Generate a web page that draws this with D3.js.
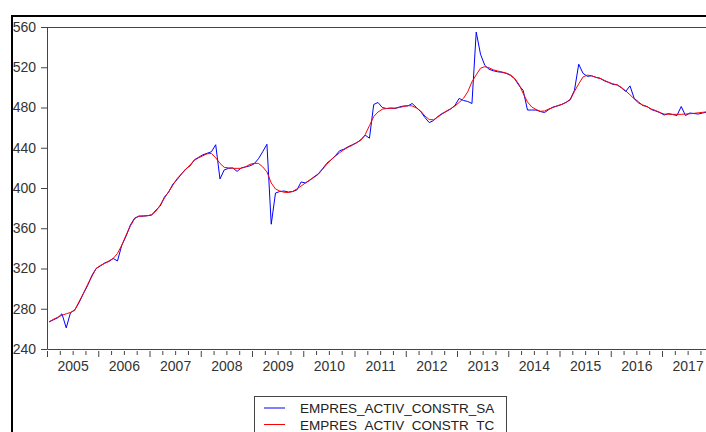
<!DOCTYPE html>
<html>
<head>
<meta charset="utf-8">
<script src="https://cdn.jsdelivr.net/npm/d3@7"></script>
<style>
  body { margin: 0; background: #fff; }
  svg { display: block; font-family: Arial, "Liberation Sans", sans-serif; }
</style>
</head>
<body>
<script>
const WIDTH = 706
const HEIGHT = 432

// Données mensuelles 2005M01 - 2017M12
const startYear = 2005
const yearLabels = ["2005", "2006", "2007", "2008", "2009", "2010", "2011", "2012", "2013", "2014", "2015", "2016", "2017"]
const yTicks = [240, 280, 320, 360, 400, 440, 480, 520, 560]
const seriesNames = ["EMPRES_ACTIV_CONSTR_SA", "EMPRES_ACTIV_CONSTR_TC"]

const sa = [
  267, 269, 271, 275, 261, 276, 279, 286, 295, 303, 313, 320,
  322.5, 325.5, 327, 330, 327.5, 343, 352, 363, 370, 372, 372, 372.5,
  373, 378, 382, 391, 396, 404, 408.5, 414, 419, 422, 428, 430.5,
  433, 434.5, 436, 443, 409, 418, 419.5, 420, 416.5, 420, 421, 422,
  424, 429, 436, 443.5, 364, 395, 396.5, 397, 396, 396.5, 398, 406,
  405, 407.5, 411, 414, 419, 424.5, 428, 432, 437, 438.5, 441, 443,
  445, 448, 452.5, 449.5, 483, 485, 480, 479, 479.5, 479, 480.5, 481.5,
  481.5, 484, 480, 476, 470, 465, 467, 471, 474, 476, 478.5, 482,
  489, 487, 486, 484, 555, 533, 522, 518, 516.5, 515.5, 515, 514,
  512, 508.5, 502, 497, 477.5, 477.5, 477.5, 476, 475, 478, 480.5, 481.5,
  483, 485, 488, 497, 523, 514, 511, 511.5, 510, 509, 506.5, 505,
  503, 502.5, 499.5, 496, 501.5, 489, 485.5, 482, 481, 478, 476.5, 475,
  472.5, 474, 473, 472, 481, 472, 474.5, 474, 473.5, 474.5, 475.5, 476
]

const tc = [
  267, 269.5, 271.5, 273.5, 275, 276.3, 278.5, 287, 295, 304, 312, 320,
  323, 325, 327.5, 330, 335, 343, 353, 362, 369.5, 372, 372.3, 372.4,
  373.5, 377, 383, 390, 396.5, 403, 409.5, 414, 418.5, 423, 427.5, 430,
  432, 434, 434.3, 430, 424.5, 420.5, 420, 419.6, 419.5, 419.6, 421, 423.5,
  424.5, 424.5, 421, 416, 405, 399, 397, 395.8, 395.5, 396.5, 399, 402,
  405, 408, 410.5, 413.5, 418.5, 423.5, 428, 431.5, 435, 438, 440.5, 442.5,
  445, 447.5, 453, 462, 471, 475.5, 478.3, 479, 479.2, 479.4, 480, 481,
  482, 481.5, 479.5, 476.5, 471.5, 468, 467.8, 470.5, 473.5, 476.5, 478.7, 481.5,
  485, 489, 495.5, 505.5, 512.5, 519, 520.6, 519.5, 517.5, 516.3, 515.3, 514.2,
  512.5, 509, 503, 494, 485.5, 480.5, 478, 476.3, 476.5, 478.5, 480, 481.8,
  483, 485, 487.5, 496, 503.5, 510.3, 512.2, 511.5, 510, 509, 507, 505,
  503.5, 502.5, 500, 496.5, 492.7, 488.5, 484.5, 482.5, 480.8, 478.5, 477, 475,
  473.5, 473.2, 473.2, 473.2, 473.2, 473.5, 473.8, 474.2, 474.7, 475.2, 475.7, 476
]

const svg = d3.select("body")
    .append("svg")
    .attr("width", WIDTH)
    .attr("height", HEIGHT)

// Échelles
const x = d3.scaleLinear().domain([startYear, startYear + 13]).range([47, 713.25])
const y = d3.scaleLinear().domain([240, 560]).range([349, 27])

const dateOf = i => startYear + (i + 0.5) / 12

// Cadre extérieur
svg.append("line").attr("x1", 11).attr("x2", WIDTH).attr("y1", 16).attr("y2", 16)
    .attr("stroke", "#000").attr("stroke-width", 2)
svg.append("line").attr("x1", 12).attr("x2", 12).attr("y1", 15).attr("y2", HEIGHT)
    .attr("stroke", "#000").attr("stroke-width", 2)

// Axe Y
const yAxis = svg.append("g")
    .attr("transform", "translate(47,0)")
    .call(d3.axisLeft(y).tickValues(yTicks).tickSize(6).tickSizeOuter(0).tickPadding(5))
yAxis.select(".domain").attr("stroke", "#444")
yAxis.selectAll(".tick line").attr("stroke", "#444")
yAxis.selectAll(".tick text").attr("font-size", 14).attr("fill", "#333")
    .attr("font-family", "Arial, 'Liberation Sans', sans-serif")

// Bord supérieur
svg.append("line").attr("x1", 47).attr("x2", WIDTH).attr("y1", 27.5).attr("y2", 27.5)
    .attr("stroke", "#444")

// Axe X : ticks trimestriels
const quarterTicks = d3.range(startYear * 4, (startYear + 13) * 4 + 1).map(q => q / 4)
const xAxis = svg.append("g")
    .attr("transform", "translate(0,349)")
    .call(d3.axisBottom(x).tickValues(quarterTicks).tickSize(5).tickSizeOuter(0).tickFormat(""))
xAxis.select(".domain").attr("stroke", "#444")
xAxis.selectAll(".tick line")
    .attr("stroke", "#444")
    .attr("y1", 2)
    .attr("y2", d => Number.isInteger(d) ? 8 : 6)

// Libellés des années
const labelAxis = svg.append("g")
    .attr("transform", "translate(0,349)")
    .call(d3.axisBottom(x)
        .tickValues(yearLabels.map(l => +l + 0.5))
        .tickSize(0).tickPadding(12)
        .tickFormat((d, i) => yearLabels[i]))
labelAxis.select(".domain").remove()
labelAxis.selectAll(".tick text").attr("font-size", 14).attr("fill", "#333")
    .attr("font-family", "Arial, 'Liberation Sans', sans-serif")

// Courbes
const line = d3.line()
    .x((d, i) => x(dateOf(i)))
    .y(d => y(d))

svg.append("path").datum(sa)
    .attr("d", line)
    .attr("fill", "none")
    .attr("stroke", "#0000ff")
    .attr("stroke-width", 1)

svg.append("path").datum(tc)
    .attr("d", line)
    .attr("fill", "none")
    .attr("stroke", "#ff0000")
    .attr("stroke-width", 1)

// Légende
const legend = svg.append("g")
legend.append("rect")
    .attr("x", 254.5).attr("y", 396.5)
    .attr("width", 252).attr("height", 50)
    .attr("fill", "#fff").attr("stroke", "#444")

const colors = ["#0000ff", "#ff0000"]
seriesNames.forEach((name, i) => {
    const ly = 408 + i * 16.5
    legend.append("line")
        .attr("x1", 264).attr("x2", 285)
        .attr("y1", ly).attr("y2", ly)
        .attr("stroke", colors[i])
    legend.append("text")
        .text(name)
        .attr("x", 300).attr("y", ly + 5)
        .attr("font-size", 13.5)
        .attr("fill", "#222")
})
</script>
</body>
</html>
